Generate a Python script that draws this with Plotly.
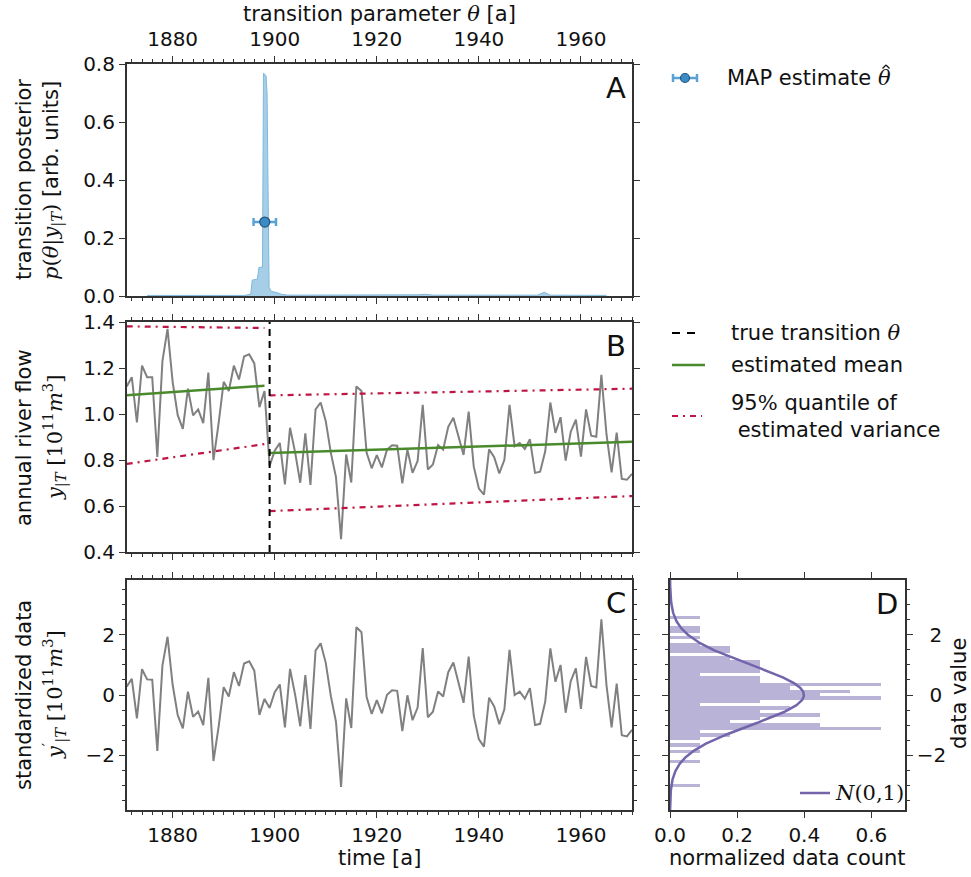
import numpy as np
import plotly.graph_objects as go

# ---------------- data ----------------
years = list(range(1871, 1971))
flow = [1.120, 1.160, 0.963, 1.210, 1.160, 1.160, 0.813, 1.230, 1.370, 1.140,
        0.995, 0.935, 1.110, 0.994, 1.020, 0.960, 1.180, 0.799, 0.958, 1.140,
        1.100, 1.210, 1.150, 1.250, 1.260, 1.220, 1.030, 1.100, 0.774, 0.840,
        0.874, 0.694, 0.940, 0.833, 0.701, 0.916, 0.692, 1.020, 1.050, 0.969,
        0.831, 0.726, 0.456, 0.824, 0.702, 1.120, 1.100, 0.832, 0.764, 0.821,
        0.768, 0.845, 0.864, 0.862, 0.698, 0.845, 0.744, 0.796, 1.040, 0.759,
        0.781, 0.865, 0.845, 0.944, 0.984, 0.897, 0.822, 1.010, 0.771, 0.676,
        0.649, 0.846, 0.812, 0.742, 0.801, 1.040, 0.860, 0.874, 0.848, 0.890,
        0.744, 0.749, 0.838, 1.050, 0.918, 0.986, 0.797, 0.923, 0.975, 0.815,
        1.020, 0.906, 0.901, 1.170, 0.912, 0.746, 0.919, 0.718, 0.714, 0.740]

standardized = [0.28, 0.54, -0.78, 0.86, 0.52, 0.51, -1.86, 0.98, 1.94, 0.34,
                -0.67, -1.11, 0.11, -0.73, -0.55, -1.00, 0.57, -2.20, -1.07, 0.26,
                -0.05, 0.76, 0.30, 1.05, 1.12, 0.81, -0.66, -0.13,
                -0.43, 0.09, 0.35, -1.08, 0.87, 0.01, -1.04, 0.66, -1.13, 1.48,
                1.72, 1.07, -0.04, -0.89, -3.06, -0.11, -1.10, 2.26, 2.09, -0.07,
                -0.63, -0.17, -0.61, 0.01, 0.16, 0.14, -1.20, -0.01, -0.84, -0.42,
                1.56, -0.74, -0.56, 0.12, -0.05, 0.76, 1.08, 0.36, -0.26, 1.28,
                -0.69, -1.48, -1.72, -0.09, -0.38, -0.97, -0.48, 1.50, 0.00, 0.11,
                -0.12, 0.23, -1.00, -0.96, -0.22, 1.55, 0.44, 1.00, -0.59, 0.46,
                0.89, -0.46, 1.27, 0.30, 0.25, 2.52, 0.33, -1.08, 0.38, -1.34,
                -1.38, -1.16]

posterior_theta = [1875, 1894, 1895.3, 1895.6, 1896.6, 1896.9, 1897.6, 1897.8,
                   1898.3, 1898.5, 1898.9, 1899.3, 1900.4, 1901.3, 1902.5, 1920,
                   1928, 1929.5, 1931, 1945, 1951.5, 1952.8, 1954, 1965]
posterior_prob = [0.002, 0.002, 0.006, 0.055, 0.058, 0.098, 0.100, 0.768,
                  0.760, 0.700, 0.030, 0.016, 0.012, 0.006, 0.003, 0.003,
                  0.004, 0.006, 0.003, 0.003, 0.003, 0.013, 0.003, 0.002]

map_theta = [1898.05]
map_height = [0.255]
map_err = [2.2]
true_theta = 1899

seg1_years = [1871, 1898]
seg1_mean = [1.081, 1.123]
seg1_upper = [1.381, 1.374]
seg1_lower = [0.783, 0.869]
seg2_years = [1899, 1970]
seg2_mean = [0.830, 0.879]
seg2_upper = [1.081, 1.110]
seg2_lower = [0.578, 0.643]

# standard normal reference curve N(0,1)
z_grid = np.linspace(-3.83, 3.83, 400)
normal_pdf = np.exp(-0.5 * z_grid ** 2) / np.sqrt(2 * np.pi)

# ---------------- styling ----------------
W, H = 971, 877
FONT = "DejaVu Sans"
GRAY = "#808080"
GREEN = "#4b8a2c"
RED = "#bf1545"
BLUE_FILL = "rgba(107,174,214,0.6)"
BLUE_LINE = "#7fb8dd"
PURPLE = "#7465ab"
LAVENDER = "#bab3d8"
AX = "#333333"


def px(x):
    return x / W


def py(y):
    return 1 - y / H


xA = [px(126.7), px(632)]
xD = [px(670), px(905)]
yA = [py(296), py(64)]
yB = [py(552), py(322)]
yC = [py(810), py(580)]

fig = go.Figure()

# Panel A: posterior
fig.add_trace(go.Scatter(x=posterior_theta, y=posterior_prob, mode="lines",
                         fill="tozeroy", fillcolor=BLUE_FILL,
                         line=dict(color=BLUE_LINE, width=1),
                         xaxis="x", yaxis="y"))
fig.add_trace(go.Scatter(x=map_theta, y=map_height, mode="markers",
                         marker=dict(size=10, color="#3d8bc4",
                                     line=dict(color="#24577f", width=1.2)),
                         error_x=dict(type="data", array=map_err, color="#5aa2d6",
                                      thickness=2.5, width=4),
                         xaxis="x", yaxis="y"))

# Panel B: data, mean and quantiles
fig.add_trace(go.Scatter(x=years, y=flow, mode="lines",
                         line=dict(color=GRAY, width=2), xaxis="x2", yaxis="y2"))
dashdot = "6px,5px,2px,5px"
for yrs, lo, up, mn in [(seg1_years, seg1_lower, seg1_upper, seg1_mean),
                        (seg2_years, seg2_lower, seg2_upper, seg2_mean)]:
    fig.add_trace(go.Scatter(x=yrs, y=up, mode="lines",
                             line=dict(color=RED, width=2.2, dash=dashdot),
                             xaxis="x2", yaxis="y2"))
    fig.add_trace(go.Scatter(x=yrs, y=lo, mode="lines",
                             line=dict(color=RED, width=2.2, dash=dashdot),
                             xaxis="x2", yaxis="y2"))
    fig.add_trace(go.Scatter(x=yrs, y=mn, mode="lines",
                             line=dict(color=GREEN, width=2.5),
                             xaxis="x2", yaxis="y2"))

# Panel C: standardized data
fig.add_trace(go.Scatter(x=years, y=standardized, mode="lines",
                         line=dict(color=GRAY, width=2), xaxis="x3", yaxis="y3"))

# Panel D: histogram + N(0,1)
zmin, zmax = min(standardized), max(standardized)
fig.add_trace(go.Histogram(y=standardized, orientation="h",
                           histnorm="probability density",
                           ybins=dict(start=zmin - 1e-6, end=zmax + 1e-3,
                                      size=(zmax - zmin) / 50),
                           marker=dict(color=LAVENDER, line=dict(width=0)),
                           xaxis="x4", yaxis="y4"))
fig.add_trace(go.Scatter(x=normal_pdf, y=z_grid, mode="lines",
                         line=dict(color=PURPLE, width=2.5),
                         xaxis="x4", yaxis="y4"))

tickfont = dict(family=FONT, size=20, color="#111")
common = dict(showline=True, linecolor=AX, linewidth=1.5, mirror="ticks",
              ticks="outside", ticklen=6, tickwidth=1.3, tickcolor=AX,
              showgrid=False, zeroline=False, tickfont=tickfont, fixedrange=True,
              automargin=False)
xminor = dict(dtick=2, ticklen=3, tickwidth=1, tickcolor=AX, ticks="outside")

shapes = [dict(type="line", xref="x2", yref="y2 domain", x0=true_theta,
               x1=true_theta, y0=0, y1=1,
               line=dict(color="black", width=2, dash="7px,5px"))]

fig.update_layout(
    width=W, height=H, margin=dict(l=0, r=0, t=0, b=0, pad=0),
    paper_bgcolor="white", plot_bgcolor="white", showlegend=False,
    bargap=0, font=dict(family=FONT, size=20, color="#111"),
    xaxis=dict(domain=xA, anchor="y", side="top", range=[1871, 1970],
               tick0=1880, dtick=20, minor=xminor, ticklabelstandoff=2,
               **common),
    yaxis=dict(domain=yA, anchor="x", range=[0, 0.8], dtick=0.2,
               tickformat=".1f", **common),
    xaxis2=dict(domain=xA, anchor="y2", range=[1871, 1970], tick0=1880,
                dtick=20, showticklabels=False, minor=xminor, **common),
    yaxis2=dict(domain=yB, anchor="x2", range=[0.4, 1.4], dtick=0.2,
                tickformat=".1f", **common),
    xaxis3=dict(domain=xA, anchor="y3", range=[1871, 1970], tick0=1880,
                dtick=20, minor=xminor, **common),
    yaxis3=dict(domain=yC, anchor="x3", range=[-3.83, 3.83], tickvals=[-2, 0, 2],
                minor=dict(dtick=0.5, tick0=0, ticklen=3, tickwidth=1,
                           tickcolor=AX, ticks="outside"), **common),
    xaxis4=dict(domain=xD, anchor="y4", range=[0, 0.7], dtick=0.2,
                tickformat=".1f", **common),
    yaxis4=dict(domain=yC, anchor="x4", side="right", range=[-3.83, 3.83],
                tickvals=[-2, 0, 2], ticktext=["\u22122", "\u20070", "\u20072"],
                minor=dict(dtick=0.5, tick0=0, ticklen=3, tickwidth=1,
                           tickcolor=AX, ticks="outside"), **common),
)

ann = []


def text(x, y, s, size=21, angle=0, xanchor="center", align="center"):
    ann.append(dict(x=px(x), y=py(y), xref="paper", yref="paper", text=s,
                    showarrow=False, textangle=angle, xanchor=xanchor,
                    yanchor="middle", align=align,
                    font=dict(family=FONT, size=size, color="#111")))


def serif(s):
    return "<span style=\"font-family:'DejaVu Serif'\">" + s + "</span>"


unit = serif("[10<sup>11</sup><i>m</i><sup>3</sup>]")
text(379, 14, "transition parameter " + serif("<i>θ</i>") + " [a]")
text(379, 858, "time [a]")
text(787, 858, "normalized data count")
text(959, 694, "data value", angle=-90)
text(24, 180, "transition posterior", angle=-90)
text(52, 181, serif("<i>p</i>(<i>θ</i>|<i>y</i><sub>|<i>T</i></sub>)") + " [arb. units]", angle=-90)
text(24, 438, "annual river flow", angle=-90)
text(54, 438, serif("<i>y</i><sub>|<i>T</i></sub>") + " " + unit, angle=-90)
text(24, 695, "standardized data", angle=-90)
text(54, 695, serif("<i>y</i><sup>′</sup><sub>|<i>T</i></sub>") + " " + unit, angle=-90)

# panel letters
for lx, ly, s in [(616, 88, "A"), (616, 346, "B"), (616, 603, "C"), (887, 604, "D")]:
    text(lx, ly, s, size=29)

# legend texts
text(725, 78, "MAP estimate " + serif("<i>θ</i>"), xanchor="left")
text(729, 333, "true transition " + serif("<i>θ</i>"), xanchor="left")
text(729, 365, "estimated mean", xanchor="left")
text(729, 416, "95" + serif("%") + " quantile of<br>\u00a0estimated variance",
     xanchor="left", align="left")
text(833, 793, serif("<i>N</i>(0,1)"), xanchor="left")


# legend symbols
def pline(x0, y0, x1, y1, color, width, dash=None):
    d = dict(type="line", xref="paper", yref="paper", x0=px(x0), y0=py(y0),
             x1=px(x1), y1=py(y1), line=dict(color=color, width=width))
    if dash:
        d["line"]["dash"] = dash
    shapes.append(d)


# hat accent over theta (MAP estimate)
pline(882.5, 68.5, 886, 65, "#111", 1.2)
pline(886, 65, 889.5, 68.5, "#111", 1.2)

pline(673, 78, 697, 78, "#5aa2d6", 2.5)
pline(673, 74, 673, 82, "#5aa2d6", 2.5)
pline(697, 74, 697, 82, "#5aa2d6", 2.5)
shapes.append(dict(type="circle", xref="paper", yref="paper",
                   x0=px(680.5), x1=px(689.5), y0=py(82.5), y1=py(73.5),
                   fillcolor="#3d8bc4", line=dict(color="#24577f", width=1.2)))
pline(672, 333, 700, 333, "black", 2, "8px,7px")
pline(672, 365, 705, 365, GREEN, 2.5)
pline(672, 416, 702, 416, RED, 2.2, dashdot)
pline(800, 793, 830, 793, PURPLE, 2.5)

fig.update_layout(annotations=ann, shapes=shapes)
fig.write_html("out.html")
